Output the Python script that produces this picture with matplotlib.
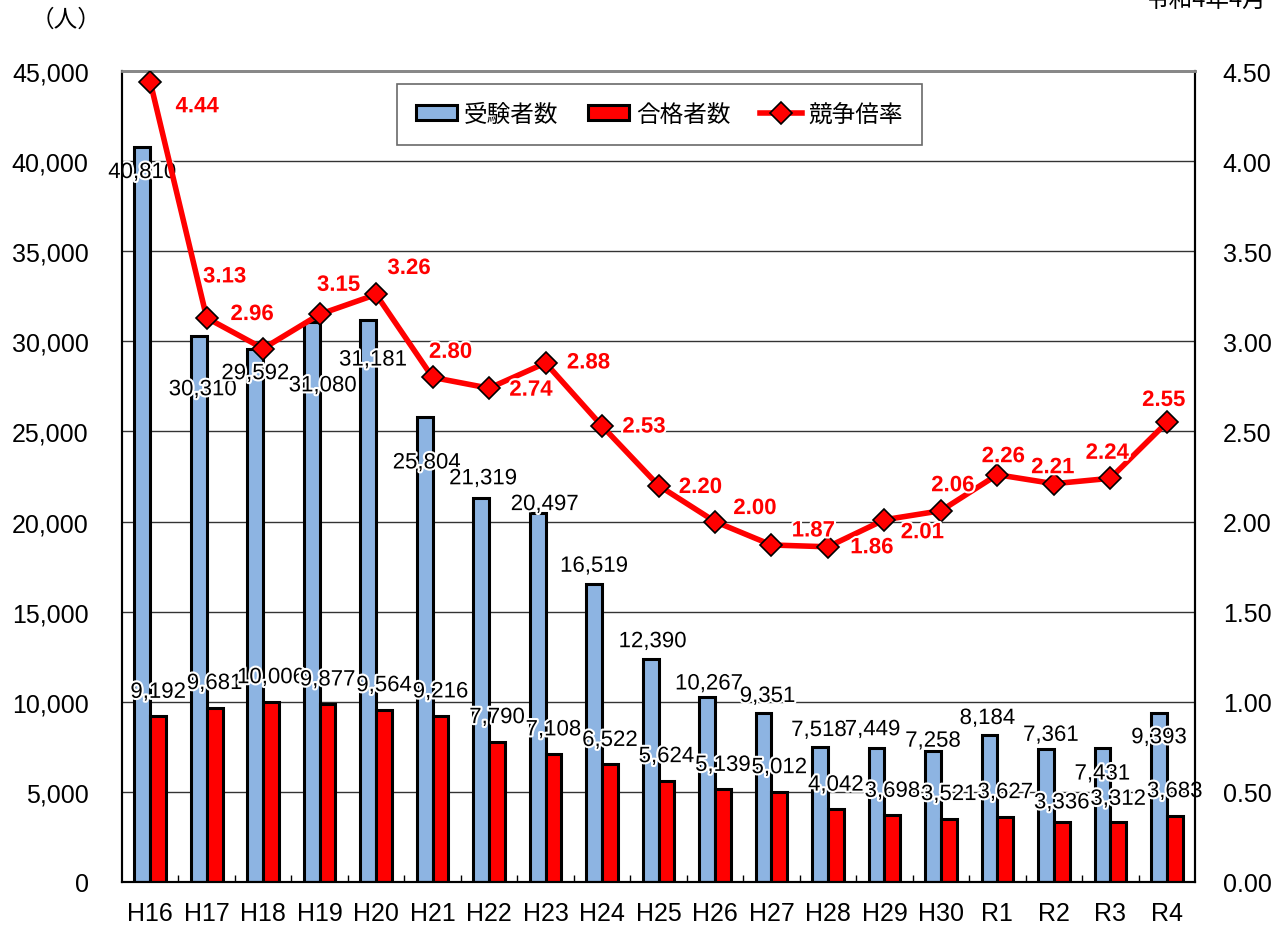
import matplotlib
matplotlib.use("Agg")
import matplotlib.pyplot as plt
import matplotlib.patheffects as pe
from matplotlib.lines import Line2D
from matplotlib.patches import Patch
from matplotlib.ticker import FuncFormatter, FixedLocator

plt.rcParams["font.family"] = ["Liberation Sans", "Noto Sans CJK JP"]

years = ["H16", "H17", "H18", "H19", "H20", "H21", "H22", "H23", "H24", "H25",
         "H26", "H27", "H28", "H29", "H30", "R1", "R2", "R3", "R4"]
applicants = [40810, 30310, 29592, 31080, 31181, 25804, 21319, 20497, 16519, 12390,
              10267, 9351, 7518, 7449, 7258, 8184, 7361, 7431, 9393]
passed = [9192, 9681, 10006, 9877, 9564, 9216, 7790, 7108, 6522, 5624,
          5139, 5012, 4042, 3698, 3521, 3627, 3336, 3312, 3683]
ratio = [4.44, 3.13, 2.96, 3.15, 3.26, 2.80, 2.74, 2.88, 2.53, 2.20,
         2.00, 1.87, 1.86, 2.01, 2.06, 2.26, 2.21, 2.24, 2.55]

# label offsets in pixels (dx, dy), dy positive = up
blue_off = [(0, -26), (4, -54), (0, -25), (11, -64), (5, -40), (2, -46), (2, 19), (7, 8),
            (0, 18), (2, 17), (2, 13), (4, 17), (-1, 16), (-4, 18), (0, 10), (-2, 16),
            (5, 14), (0, -26), (0, -25)]
red_off = [(0, 24)] * 16 + [(0, 19), (0, 23), (0, 24)]
ratio_off = [(47, -25), (18, 41), (-11, 34), (19, 29), (33, 26), (18, 25), (42, -2), (43, 0),
             (42, -1), (42, -2), (40, 13), (42, 14), (44, -1), (38, -13), (12, 25), (6, 18),
             (-1, 16), (-3, 25), (-3, 22)]

blue = "#8DB4E2"
red = "#FF0000"
glow = [pe.withStroke(linewidth=3, foreground="white")]

fig = plt.figure(figsize=(12.72, 9.28), dpi=100)
ax = fig.add_axes([0.0959, 0.0485, 0.8436, 0.8739])
ax2 = ax.twinx()

x = list(range(len(years)))
w = 0.28
ax.bar([i - w / 2 for i in x], applicants, w, color=blue, edgecolor="black", linewidth=2.2, zorder=2)
ax.bar([i + w / 2 for i in x], passed, w, color=red, edgecolor="black", linewidth=2.2, zorder=2)

ax.set_xlim(-0.5, len(years) - 0.5)
ax.set_ylim(0, 45000)
ax.set_yticks(range(0, 45001, 5000))
ax.yaxis.set_major_formatter(FuncFormatter(lambda v, p: f"{int(v):,}"))
ax.grid(axis="y", color="#333333", linewidth=1)
ax.set_axisbelow(True)
ax.set_xticks(x)
ax.set_xticklabels(years, fontsize=18)
ax.xaxis.set_minor_locator(FixedLocator([i + 0.5 for i in x[:-1]]))
ax.tick_params(axis="x", which="major", length=0, pad=14)
ax.tick_params(axis="x", which="minor", direction="in", length=5, width=1)
ax.tick_params(axis="y", length=0, labelsize=18, pad=24)

for i in x:
    dx, dy = blue_off[i]
    ax.annotate(f"{applicants[i]:,}", (i - w / 2, applicants[i]), xytext=(dx, dy),
                textcoords="offset pixels", ha="center", va="center", fontsize=16,
                color="black", path_effects=glow, zorder=5)
    dx, dy = red_off[i]
    ax.annotate(f"{passed[i]:,}", (i + w / 2, passed[i]), xytext=(dx, dy),
                textcoords="offset pixels", ha="center", va="center", fontsize=16,
                color="black", path_effects=glow, zorder=5)

ax2.plot(x, ratio, color=red, linewidth=4, marker="D", markersize=11,
         markerfacecolor=red, markeredgecolor="black", markeredgewidth=1.2, zorder=3)
ax2.set_ylim(0, 4.5)
ax2.set_yticks([k * 0.5 for k in range(10)])
ax2.yaxis.set_major_formatter(FuncFormatter(lambda v, p: f"{v:.2f}"))
ax2.tick_params(axis="y", length=0, labelsize=18, pad=20)

for i in x:
    dx, dy = ratio_off[i]
    ax2.annotate(f"{ratio[i]:.2f}", (i, ratio[i]), xytext=(dx, dy),
                 textcoords="offset pixels", ha="center", va="center", fontsize=16,
                 fontweight="bold", color=red, path_effects=glow, zorder=6)

for a in (ax, ax2):
    for s in ("left", "right", "bottom"):
        a.spines[s].set_color("black")
        a.spines[s].set_linewidth(1.5)
    a.spines["top"].set_color("#888888")
    a.spines["top"].set_linewidth(2)

handles = [Patch(facecolor=blue, edgecolor="black", linewidth=2.2),
           Patch(facecolor=red, edgecolor="black", linewidth=2.2),
           Line2D([], [], color=red, linewidth=4, marker="D", markersize=11,
                  markerfacecolor=red, markeredgecolor="black", markeredgewidth=1.2)]
leg = ax2.legend(handles, ["受験者数", "合格者数", "競争倍率"], loc="upper left",
                 bbox_to_anchor=(0.256, 0.984), borderaxespad=0, ncol=3, frameon=True,
                 fancybox=False, edgecolor="#444444", handlelength=1.75, handleheight=0.55,
                 columnspacing=1.25, handletextpad=0.3, borderpad=0.8,
                 prop={"family": ["Noto Sans CJK JP"], "size": 17})
leg.get_frame().set_linewidth(1.2)

fig.text(0.052, 0.978, "（人）", fontsize=17, family=["Noto Sans CJK JP"], ha="center", va="center")
fig.text(0.995, 0.999, "令和4年4月", fontsize=17, family=["Noto Sans CJK JP"], ha="right", va="center")

fig.savefig("out.png", dpi=100)
